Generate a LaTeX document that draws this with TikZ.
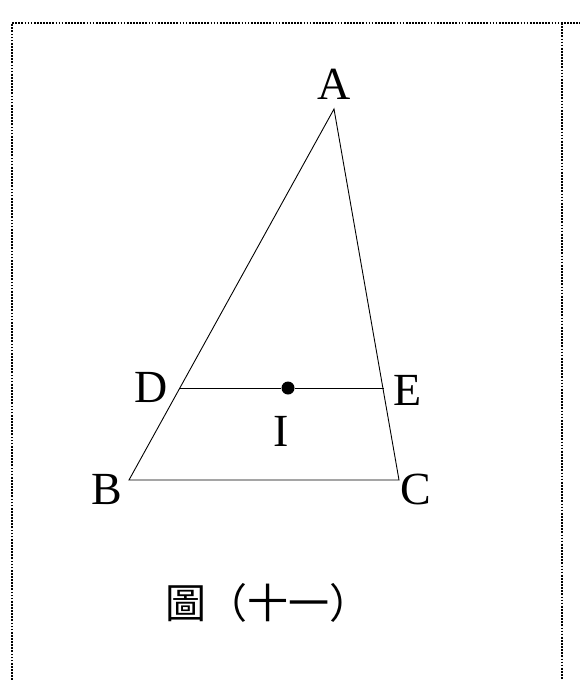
\documentclass[tikz,border=0pt]{standalone}
\usepackage{fontspec}
\setmainfont{Liberation Serif}
\newfontfamily\cjk{Noto Sans CJK TC}
\usetikzlibrary{positioning}
\tikzset{
	side/.style = {draw=black, line width=0.45pt},
	vname/.style = {inner sep=0pt, font=\fontsize{23}{27}\selectfont},
	frameline/.style = {line width=1pt, dash pattern=on 0.85pt off 0.7pt},
	vertex/.style = {circle, fill=black, inner sep=0pt, minimum size=6.5pt}
}
\begin{document}
\begin{tikzpicture}[x=0.5pt, y=-0.5pt]
	\useasboundingbox (0,0) rectangle (580,680);

	% frame
	\coordinate (f1) at (12,680);
	\coordinate (f2) at (12,23);
	\coordinate (f3) at (580,23);
	\coordinate (f4) at (562,23);
	\coordinate (f5) at (562,680);
	\draw[frameline] (f1) -- (f2) -- (f3);
	\draw[frameline] (f4) -- (f5);

	% triangle
	\coordinate (A) at (334,109);
	\coordinate (B) at (129,480);
	\coordinate (C) at (399,480);
	\coordinate (D) at (180,388);
	\coordinate (E) at (384,388);
	\node[vertex] (I) at (288,388) {};

	\draw[side] (A) -- (B) -- (C) -- cycle;
	\draw[side] (D) -- (I) -- (E);

	% names
	\node[vname] (lA) at (334,84) {A};
	\node[vname] (lB) at (107,490) {B};
	\node[vname] (lC) at (416,489) {C};
	\node[vname] (lD) at (151,387) {D};
	\node[vname] (lE) at (408,390) {E};
	\node[vname] (lI) at (281,431) {I};

	% caption
	\node[inner sep=0pt, font=\cjk\fontsize{20.5}{24}\selectfont] (cap) at (268,603) {圖（十一）};
\end{tikzpicture}
\end{document}
